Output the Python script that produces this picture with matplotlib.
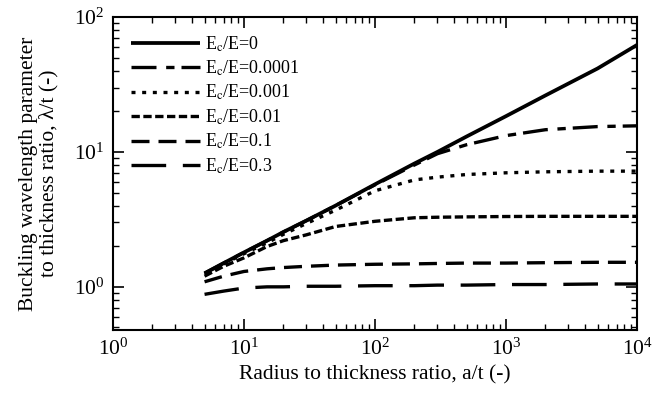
import matplotlib
matplotlib.use("Agg")
import matplotlib.pyplot as plt

plt.rcParams['font.family'] = ['Liberation Serif', 'DejaVu Serif']
plt.rcParams['mathtext.fontset'] = 'stix'
plt.rcParams.update({
    'xtick.direction': 'in', 'ytick.direction': 'in',
    'xtick.top': True, 'ytick.right': True,
    'xtick.major.size': 8, 'ytick.major.size': 8,
    'xtick.minor.size': 4.5, 'ytick.minor.size': 4.5,
    'xtick.major.width': 1.2, 'ytick.major.width': 1.2,
    'xtick.minor.width': 1.0, 'ytick.minor.width': 1.0,
    'xtick.major.pad': 6, 'ytick.major.pad': 6,
    'xtick.labelsize': 15.5, 'ytick.labelsize': 15.5,
    'axes.linewidth': 1.5,
})

# radius-to-thickness ratio a/t
a_t = [5, 7, 10, 15, 20, 30, 50, 100, 200, 300, 500, 1000, 2000, 5000, 10000]

# buckling wavelength parameter lambda/t for each core stiffness ratio
lam_0 = [1.26, 1.50, 1.80, 2.20, 2.55, 3.10, 4.00, 5.75, 8.20, 10.0, 13.0, 18.4, 26.2, 41.5, 62.0]
lam_1e4 = [1.26, 1.50, 1.80, 2.20, 2.55, 3.10, 4.00, 5.70, 8.00, 9.70, 11.3, 13.2, 14.6, 15.4, 15.6]
lam_1e3 = [1.25, 1.48, 1.76, 2.12, 2.45, 2.95, 3.70, 5.15, 6.20, 6.50, 6.80, 7.00, 7.12, 7.20, 7.20]
lam_1e2 = [1.20, 1.42, 1.64, 1.99, 2.20, 2.43, 2.80, 3.06, 3.25, 3.28, 3.30, 3.32, 3.33, 3.33, 3.33]
lam_1e1 = [1.09, 1.20, 1.30, 1.36, 1.39, 1.42, 1.45, 1.47, 1.48, 1.49, 1.50, 1.50, 1.51, 1.52, 1.52]
lam_3e1 = [0.88, 0.93, 0.98, 1.00, 1.00, 1.01, 1.01, 1.02, 1.02, 1.03, 1.03, 1.04, 1.04, 1.05, 1.05]

labels = [r'E$_\mathrm{c}$/E=0', r'E$_\mathrm{c}$/E=0.0001', r'E$_\mathrm{c}$/E=0.001',
          r'E$_\mathrm{c}$/E=0.01', r'E$_\mathrm{c}$/E=0.1', r'E$_\mathrm{c}$/E=0.3']

fig = plt.figure(figsize=(6.55, 3.95), dpi=100)
ax = fig.add_axes([0.1725, 0.1646, 0.80, 0.7925])

# dash patterns are in multiples of the line width
ax.plot(a_t, lam_0, color='black', lw=2.7, solid_capstyle='butt', label=labels[0])
ax.plot(a_t, lam_1e4, color='black', lw=2.4, dashes=(7.5, 2.9, 2.5, 2.1), label=labels[1])
ax.plot(a_t, lam_1e3, color='black', lw=2.4, dashes=(1.2, 2.0), label=labels[2])
ax.plot(a_t, lam_1e2, color='black', lw=2.4, dashes=(2.5, 1.05), label=labels[3])
ax.plot(a_t, lam_1e1, color='black', lw=2.4, dashes=(5.4, 2.7), label=labels[4])
ax.plot(a_t, lam_3e1, color='black', lw=2.4, dashes=(10.4, 5.0), label=labels[5])

ax.set_xscale('log')
ax.set_yscale('log')
ax.set_xlim(1, 1e4)
ax.set_ylim(0.479, 100)

ax.set_xlabel('Radius to thickness ratio, a/t (-)', fontsize=15.5, labelpad=4)
ax.set_ylabel('Buckling wavelength parameter\nto thickness ratio, λ/t (-)', fontsize=15.5,
              labelpad=11, linespacing=1.1)

ax.legend(loc='upper left', bbox_to_anchor=(0.035, 0.945), frameon=False,
          fontsize=13, handlelength=3.8, handletextpad=0.3, labelspacing=0.28,
          borderaxespad=0, borderpad=0)

fig.savefig('out.png', dpi=100)
